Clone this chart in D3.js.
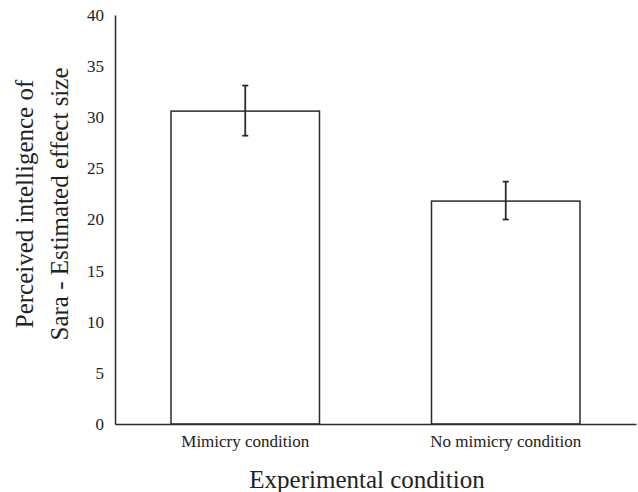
<!DOCTYPE html>
<html>
<head>
<meta charset="utf-8">
<script src="https://cdn.jsdelivr.net/npm/d3@7"></script>
<style>
    body { margin: 0; background: #fff; }
    text { font-family: "Liberation Serif", "Times New Roman", serif; fill: #222; }
</style>
</head>
<body>
<div id="chart"></div>
<script>
// data
const conditions = ["Mimicry condition", "No mimicry condition"];
const means = [30.6, 21.8];
const errLow = [28.2, 20.0];
const errHigh = [33.1, 23.7];
const yTicks = [0, 5, 10, 15, 20, 25, 30, 35, 40];

const width = 638, height = 492;
const margin = { top: 15, right: 2, bottom: 68, left: 115 };

const svg = d3.select('#chart').append('svg')
    .attr('width', width)
    .attr('height', height);

const x = d3.scaleBand()
    .domain(conditions)
    .range([margin.left, width - margin.right])
    .paddingInner(0.43)
    .paddingOuter(0.215);

const y = d3.scaleLinear()
    .domain([0, 40])
    .range([height - margin.bottom, margin.top]);

const lineColor = '#2b2b2b';

// bars
svg.selectAll('rect.bar')
    .data(conditions)
    .join('rect')
    .attr('class', 'bar')
    .attr('x', d => x(d))
    .attr('y', (d, i) => y(means[i]))
    .attr('width', x.bandwidth())
    .attr('height', (d, i) => y(0) - y(means[i]))
    .attr('fill', '#fff')
    .attr('stroke', lineColor)
    .attr('stroke-width', 1.5);

// error bars
const eb = svg.selectAll('g.err')
    .data(conditions)
    .join('g')
    .attr('class', 'err')
    .attr('stroke', lineColor)
    .attr('stroke-width', 1.8);

eb.append('line')
    .attr('x1', d => x(d) + x.bandwidth() / 2)
    .attr('x2', d => x(d) + x.bandwidth() / 2)
    .attr('y1', (d, i) => y(errLow[i]))
    .attr('y2', (d, i) => y(errHigh[i]));

[errLow, errHigh].forEach(arr => {
    eb.append('line')
        .attr('x1', d => x(d) + x.bandwidth() / 2 - 3)
        .attr('x2', d => x(d) + x.bandwidth() / 2 + 3)
        .attr('y1', (d, i) => y(arr[i]))
        .attr('y2', (d, i) => y(arr[i]));
});

// y axis
const yAxis = svg.append('g')
    .attr('transform', `translate(${margin.left},0)`)
    .call(d3.axisLeft(y).tickValues(yTicks).tickSize(0).tickPadding(11));
yAxis.select('.domain').attr('stroke', lineColor).attr('stroke-width', 1.5);
yAxis.selectAll('text').style('font-size', '17px').style('font-family', '"Liberation Serif", serif').attr('fill', '#222');

// x axis
const xAxis = svg.append('g')
    .attr('transform', `translate(0,${y(0)})`)
    .call(d3.axisBottom(x).tickSize(0).tickPadding(11));
xAxis.select('.domain').attr('stroke', lineColor).attr('stroke-width', 1.5);
xAxis.selectAll('text').style('font-size', '17px').style('font-family', '"Liberation Serif", serif').attr('fill', '#222');

// axis titles
svg.append('text')
    .attr('x', 367)
    .attr('y', 488)
    .attr('text-anchor', 'middle')
    .style('font-size', '25px')
    .text('Experimental condition');

const yTitle = svg.append('text')
    .attr('transform', 'translate(0,204) rotate(-90)')
    .attr('text-anchor', 'middle')
    .style('font-size', '25px');
yTitle.append('tspan').attr('x', 0).attr('y', 33).text('Perceived intelligence of');
yTitle.append('tspan').attr('x', 0).attr('y', 68).text('Sara - Estimated effect size');
</script>
</body>
</html>
